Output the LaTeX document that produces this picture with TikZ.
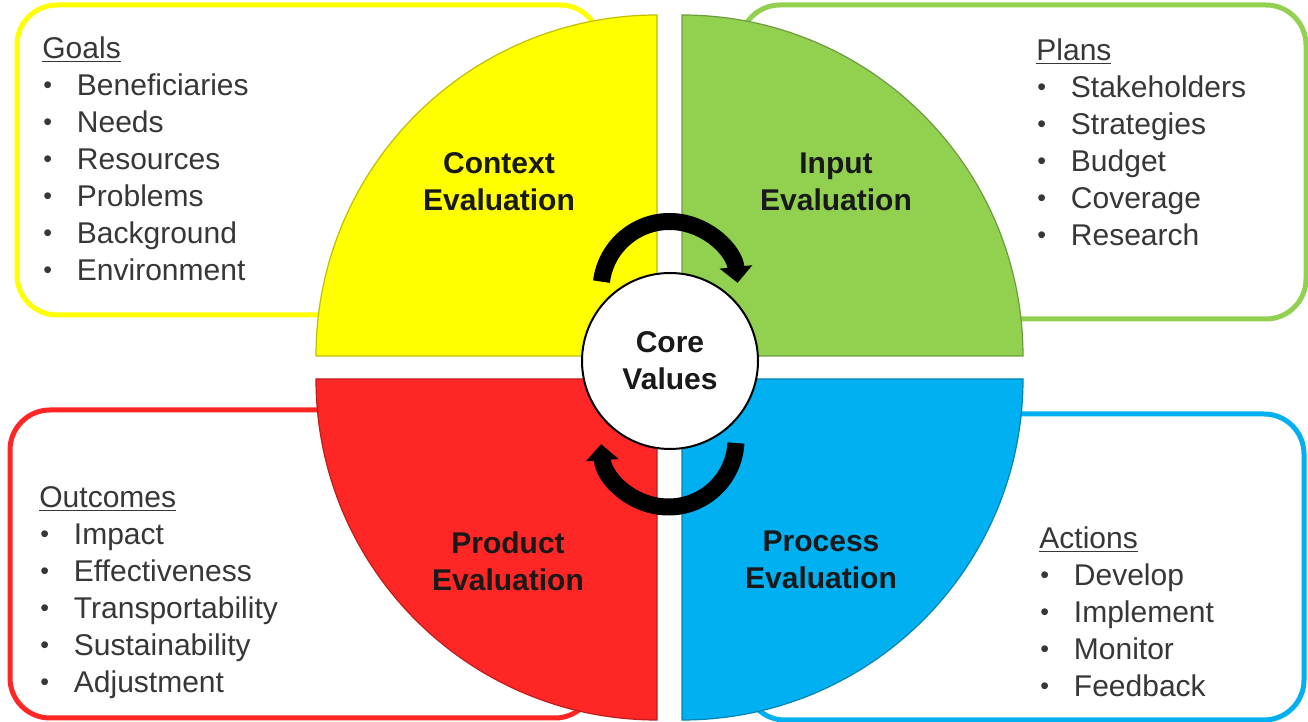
\documentclass[tikz,border=0pt]{standalone}
\usepackage{fontspec}
\setmainfont{Liberation Sans}
\usetikzlibrary{positioning,arrows.meta}

\definecolor{ctxyellow}{RGB}{255,255,0}
\definecolor{inpgreen}{RGB}{146,208,80}
\definecolor{prodred}{RGB}{255,38,38}
\definecolor{procblue}{RGB}{0,176,240}
\definecolor{listgray}{RGB}{55,55,55}

\newcommand{\listdot}{\hspace{0.5pt}\raisebox{0.9pt}{\fontsize{12.5}{12.5}\selectfont\textbullet}\hspace{12.4pt}}

\tikzset{
  listbox/.style={draw=#1, line width=2.5pt, fill=white, rounded corners=20pt},
  quadrant/.style={fill=#1, draw=#1!75!black, line width=0.6pt},
  phase/.style={font=\bfseries\fontsize{15}{18.5}\selectfont, align=center, text=black!90},
  listhead/.style={font=\fontsize{15}{18}\selectfont, anchor=base west, inner sep=0pt, text=listgray},
  listitem/.style={listhead},
  cycle arrow/.style={line width=8.5pt, -{Triangle[width=16pt,length=8pt]}},
}

\begin{document}
\begin{tikzpicture}[x=0.5pt, y=0.5pt]
  \useasboundingbox (0,0) rectangle (1308,722);
  % boxes behind the wheel
  \draw[listbox=ctxyellow] (17,407) rectangle (600,717);
  \draw[listbox=inpgreen] (740,403) rectangle (1306,717);
  \draw[listbox=prodred] (10,4) rectangle (595,312);
  \draw[listbox=procblue] (745,2) rectangle (1304,308);

  % the four quadrants
  \path[quadrant=ctxyellow] (657,366) -- (316,366) arc[start angle=180, end angle=90, radius=341] -- cycle;
  \path[quadrant=inpgreen] (682,366) -- (682,707) arc[start angle=90, end angle=0, radius=341] -- cycle;
  \path[quadrant=prodred] (657,343) -- (657,2) arc[start angle=270, end angle=180, radius=341] -- cycle;
  \path[quadrant=procblue] (682,343) -- (1023,343) arc[start angle=0, end angle=-90, radius=341] -- cycle;

  \node[phase] (context) at (499,540) {Context\\Evaluation};
  \node[phase] (input) at (836,540) {Input\\Evaluation};
  \node[phase] (product) at (508,161) {Product\\Evaluation};
  \node[phase] (process) at (821,162) {Process\\Evaluation};

  % core and the two turning arrows
  \node[phase, circle, draw, line width=1pt, fill=white, minimum size=88pt] (core) at (670,361) {Core\\Values};
  \coordinate (spintop) at (669.5,432);
  \coordinate (spinbot) at (668.5,282.5);
  \draw[cycle arrow] ([shift={(173:68.5)}]spintop) arc[start angle=173, end angle=6, radius=68.5];
  \draw[cycle arrow] ([shift={(-3:67.5)}]spinbot) arc[start angle=-3, end angle=-176, radius=67.5];

  % lists
  \node[listhead] (goals) at (42,663.3) {\underline{Goals}};
  \foreach \txt [count=\i] in {Beneficiaries, Needs, Resources, Problems, Background, Environment}
    \node[listitem] (goal\i) at ([yshift=-\i*18.5pt]goals.base west) {\listdot\txt};

  \node[listhead] (plans) at (1036,661.3) {\underline{Plans}};
  \foreach \txt [count=\i] in {Stakeholders, Strategies, Budget, Coverage, Research}
    \node[listitem] (plan\i) at ([yshift=-\i*18.5pt]plans.base west) {\listdot\txt};

  \node[listhead] (outcomes) at (39,214.3) {\underline{Outcomes}};
  \foreach \txt [count=\i] in {Impact, Effectiveness, Transportability, Sustainability, Adjustment}
    \node[listitem] (outcome\i) at ([yshift=-\i*18.5pt]outcomes.base west) {\listdot\txt};

  \node[listhead] (actions) at (1039,173.3) {\underline{Actions}};
  \foreach \txt [count=\i] in {Develop, Implement, Monitor, Feedback}
    \node[listitem] (action\i) at ([yshift=-\i*18.5pt]actions.base west) {\listdot\txt};
\end{tikzpicture}
\end{document}
